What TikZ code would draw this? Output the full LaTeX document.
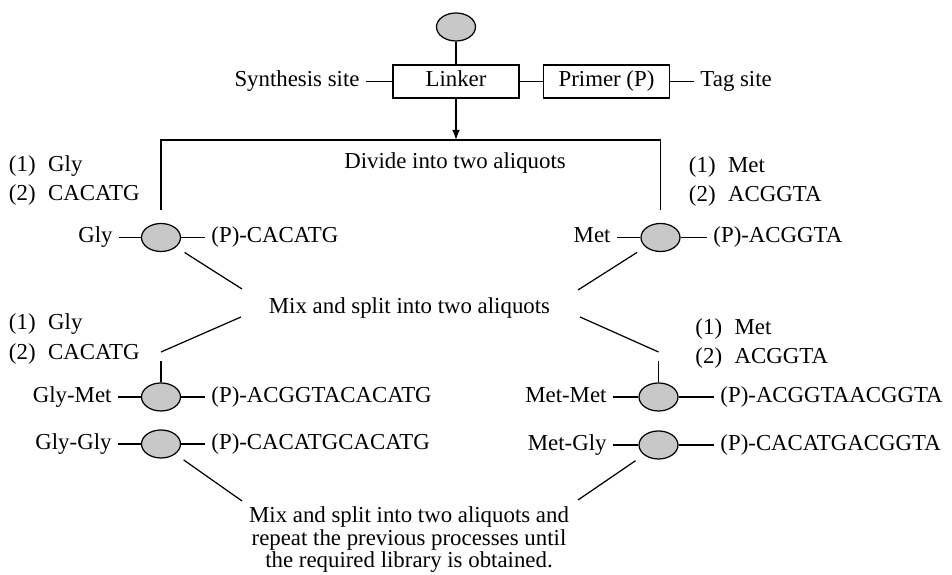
\documentclass[tikz,border=0pt]{standalone}
\usepackage{fontspec}
\setmainfont{Liberation Serif}
\usepackage{tikz}
\usetikzlibrary{arrows.meta}
\usetikzlibrary{shapes,shapes.geometric}
\tikzset{>=stealth}
\definecolor{beadgray}{RGB}{200,200,200}
\tikzset{
  bead/.style={ellipse, draw, fill=beadgray, minimum width=0.78cm, minimum height=0.56cm, inner sep=0pt},
  lbl/.style={text height=9pt, text depth=3pt},
  unit/.style={lbl, rectangle, draw, minimum width=2.52cm, minimum height=0.66cm, inner sep=0pt},
  steps/.style={anchor=west, align=left, font=\fontsize{13}{17}\selectfont},
}

\begin{document}
\begin{tikzpicture}[line width=0.7pt, font=\fontsize{13}{15}\selectfont]
      \useasboundingbox (0,0) rectangle (19.04,11.5);
      \node[bead] (bead0) at (9.12,10.96) {};
      \node[unit] (linker) at (9.12,9.87) {Linker};
      \node[unit] (primer) at (12.13,9.87) {Primer (P)};
      \node[lbl, anchor=east] (synth) at (7.32,9.87) {Synthesis site};
      \node[lbl, anchor=west] (tag) at (13.88,9.87) {Tag site};
      \draw (bead0) -- (linker);
      \draw (synth) -- (linker);
      \draw (linker) -- (primer);
      \draw (primer) -- (tag);
      \coordinate (split) at (9.12,8.70);
      \coordinate (divL) at (3.22,8.70);
      \coordinate (divR) at (13.21,8.70);
      \coordinate (divLend) at (3.22,7.30);
      \coordinate (divRend) at (13.21,7.30);
      \draw[-{Latex[length=2mm,width=1.5mm]}] (linker) -- (split);
      \draw (divLend) -- (divL) -- (divR) -- (divRend);
      \node[lbl] (divide) at (9.10,8.24) {Divide into two aliquots};
      \node[steps] (stepsG1) at (0.05,7.89) {(1)\hspace{0.55em}Gly\\(2)\hspace{0.55em}CACATG};
      \node[steps] (stepsM1) at (13.65,7.87) {(1)\hspace{0.55em}Met\\(2)\hspace{0.55em}ACGGTA};
      % first coupling
      \node[bead] (g) at (3.22,6.75) {};
      \node[bead] (m) at (13.21,6.75) {};
      \node[lbl, anchor=east] (gl) at (2.38,6.75) {Gly};
      \node[lbl, anchor=west] (gr) at (4.10,6.75) {(P)-CACATG};
      \node[lbl, anchor=east] (ml) at (12.34,6.75) {Met};
      \node[lbl, anchor=west] (mr) at (14.14,6.75) {(P)-ACGGTA};
      \draw (gl) -- (g) -- (gr);
      \draw (ml) -- (m) -- (mr);
      \node[lbl] (mix) at (8.19,5.34) {Mix and split into two aliquots};
      \coordinate (mixL1) at (4.84,5.72);
      \coordinate (mixR1) at (11.56,5.70);
      \coordinate (mixL2) at (4.82,5.16);
      \coordinate (mixR2) at (11.60,5.16);
      \coordinate (stubL) at (3.22,4.46);
      \coordinate (stubR) at (13.17,4.46);
      \draw[shorten <=2mm] (g) -- (mixL1);
      \draw[shorten <=2mm] (m) -- (mixR1);
      \draw (mixL2) -- (stubL);
      \draw (mixR2) -- (stubR);
      \node[steps] (stepsG2) at (0.05,4.72) {(1)\hspace{0.55em}Gly\\(2)\hspace{0.55em}CACATG};
      \node[steps] (stepsM2) at (13.78,4.63) {(1)\hspace{0.55em}Met\\(2)\hspace{0.55em}ACGGTA};
      % second coupling
      \node[bead] (gm) at (3.22,3.56) {};
      \node[bead] (gg) at (3.22,2.62) {};
      \node[bead] (mm) at (13.17,3.56) {};
      \node[bead] (mg) at (13.17,2.60) {};
      \draw[shorten >=1.8mm] (gm) -- (stubL);
      \draw[shorten >=1.8mm] (mm) -- (stubR);
      \node[lbl, anchor=east] (gml) at (2.36,3.56) {Gly-Met};
      \node[lbl, anchor=west] (gmr) at (4.10,3.56) {(P)-ACGGTACACATG};
      \node[lbl, anchor=east] (ggl) at (2.36,2.62) {Gly-Gly};
      \node[lbl, anchor=west] (ggr) at (4.10,2.62) {(P)-CACATGCACATG};
      \node[lbl, anchor=east] (mml) at (12.26,3.56) {Met-Met};
      \node[lbl, anchor=west] (mmr) at (14.28,3.56) {(P)-ACGGTAACGGTA};
      \node[lbl, anchor=east] (mgl) at (12.26,2.60) {Met-Gly};
      \node[lbl, anchor=west] (mgr) at (14.28,2.60) {(P)-CACATGACGGTA};
      \draw (gml) -- (gm) -- (gmr);
      \draw (ggl) -- (gg) -- (ggr);
      \draw (mml) -- (mm) -- (mmr);
      \draw (mgl) -- (mg) -- (mgr);
      \coordinate (endL) at (4.84,1.48);
      \coordinate (endR) at (11.56,1.50);
      \draw[shorten <=2mm] (gg) -- (endL);
      \draw[shorten <=2mm] (mg) -- (endR);
      \node[align=center, font=\fontsize{13}{12.8}\selectfont] (repeat) at (8.18,0.70)
        {Mix and split into two aliquots and\\repeat the previous processes until\\the required library is obtained.};
\end{tikzpicture}
\end{document}
